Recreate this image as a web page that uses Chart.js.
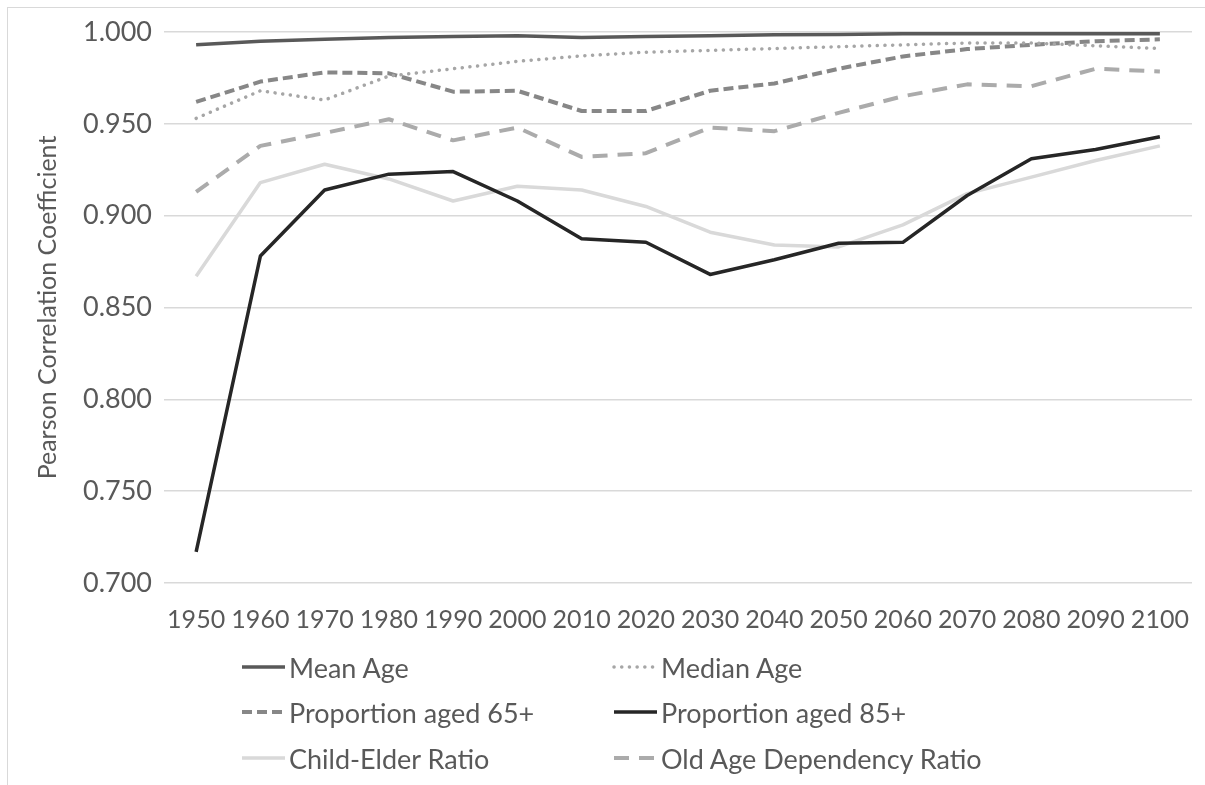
<!DOCTYPE html>
<html>
<head>
<meta charset="utf-8">
<script src="https://cdn.jsdelivr.net/npm/chart.js@4.4.1/dist/chart.umd.min.js"></script>
<style>
  html, body { margin: 0; padding: 0; background: #fff; }
  body { width: 1205px; height: 785px; position: relative; overflow: hidden; font-family: Lato, sans-serif; }
  #frame { position: absolute; left: 7px; top: 7px; width: 1300px; height: 900px; border: 1px solid #d9d9d9; box-sizing: border-box; }
  #wrap { position: absolute; left: 0; top: 0; width: 1205px; height: 655px; }
  #legend { position: absolute; left: 0; top: 0; width: 1205px; height: 785px; pointer-events: none; }
  .item { position: absolute; display: flex; align-items: center; height: 40px; color: #595959; font-size: 27px; }
  .item svg { margin-right: 3px; }
</style>
</head>
<body>
<div id="frame"></div>
<div id="wrap"><canvas id="chart"></canvas></div>
<div id="legend"></div>
<script>
// decades on the x axis
const years = ['1950', '1960', '1970', '1980', '1990', '2000', '2010', '2020',
               '2030', '2040', '2050', '2060', '2070', '2080', '2090', '2100'];

// Pearson correlation per indicator
const meanAge       = [0.993, 0.995, 0.996, 0.997, 0.9975, 0.998, 0.997, 0.9975, 0.998, 0.9985, 0.9987, 0.999, 0.999, 0.999, 0.999, 0.999];
const medianAge     = [0.953, 0.968, 0.963, 0.976, 0.980, 0.984, 0.987, 0.989, 0.990, 0.991, 0.992, 0.993, 0.994, 0.994, 0.9925, 0.991];
const aged65        = [0.962, 0.973, 0.978, 0.9775, 0.9675, 0.968, 0.957, 0.957, 0.968, 0.972, 0.980, 0.9867, 0.9907, 0.993, 0.995, 0.996];
const aged85        = [0.717, 0.878, 0.914, 0.9226, 0.924, 0.908, 0.8874, 0.8855, 0.868, 0.876, 0.885, 0.8855, 0.911, 0.931, 0.936, 0.943];
const childElder    = [0.867, 0.918, 0.928, 0.920, 0.908, 0.916, 0.914, 0.905, 0.891, 0.884, 0.883, 0.895, 0.912, 0.921, 0.930, 0.938];
const oldAgeDep     = [0.913, 0.938, 0.945, 0.9525, 0.941, 0.948, 0.932, 0.934, 0.948, 0.946, 0.956, 0.965, 0.9715, 0.9705, 0.980, 0.9785];

// y axis ticks
const yMin = 0.7, yMax = 1.0, yStep = 0.05;

const series = [
  { label: 'Mean Age',                  data: meanAge,    color: '#595959', width: 3.5, dash: [],        cap: 'butt' },
  { label: 'Median Age',                data: medianAge,  color: '#a6a6a6', width: 3.5, dash: [0.1, 7.6], cap: 'round' },
  { label: 'Proportion aged 65+',       data: aged65,     color: '#878787', width: 4,   dash: [10, 5],   cap: 'butt' },
  { label: 'Proportion aged 85+',       data: aged85,     color: '#262626', width: 3.5, dash: [],        cap: 'butt' },
  { label: 'Child-Elder Ratio',         data: childElder, color: '#d9d9d9', width: 3.5, dash: [],        cap: 'butt' },
  { label: 'Old Age Dependency Ratio',  data: oldAgeDep,  color: '#ababab', width: 4,   dash: [15, 10],  cap: 'butt' },
];

const chart = new Chart(document.getElementById('chart').getContext('2d'), {
  type: 'line',
  data: {
    labels: years,
    datasets: series.map(s => ({
      label: s.label,
      data: s.data,
      borderColor: s.color,
      backgroundColor: s.color,
      borderWidth: s.width,
      borderDash: s.dash,
      borderCapStyle: s.cap,
      borderJoinStyle: 'round',
      pointRadius: 0,
      tension: 0,
      fill: false,
    })),
  },
  options: {
    responsive: true,
    maintainAspectRatio: false,
    animation: false,
    layout: { padding: { top: 32, right: 13, bottom: 6, left: 0 } },
    plugins: { legend: { display: false }, tooltip: { enabled: false } },
    scales: {
      x: {
        offset: true,
        grid: { display: false },
        border: { display: false },
        ticks: { color: '#595959', font: { family: 'Lato', size: 25 }, autoSkip: false, maxRotation: 0, minRotation: 0, padding: 14 },
      },
      y: {
        min: yMin,
        max: yMax,
        grid: { color: '#d9d9d9', lineWidth: 1.5, drawTicks: false },
        border: { display: false },
        afterFit: axis => { axis.width = 164; },
        title: { display: true, text: 'Pearson Correlation Coefficient', color: '#595959', font: { family: 'Lato', size: 25 }, padding: { top: 33, bottom: 0 } },
        ticks: {
          stepSize: yStep,
          color: '#595959',
          font: { family: 'Lato', size: 27 },
          padding: 12,
          callback: v => v.toFixed(3),
        },
      },
    },
  },
});

// two-column legend built from the datasets
const legend = document.getElementById('legend');
const cols = [240, 612];
const rows = [667, 712, 758];
series.forEach((s, i) => {
  const el = document.createElement('div');
  el.className = 'item';
  el.style.left = cols[i % 2] + 'px';
  el.style.top = (rows[Math.floor(i / 2)] - 20) + 'px';
  const dash = s.dash.length ? s.dash.join(' ') : 'none';
  el.innerHTML =
    '<svg width="46" height="10"><line x1="2" y1="5" x2="45" y2="5" stroke="' + s.color +
    '" stroke-width="' + s.width + '" stroke-dasharray="' + dash + '" stroke-linecap="' + s.cap + '"/></svg>' +
    '<span>' + s.label + '</span>';
  legend.appendChild(el);
});
</script>
</body>
</html>
